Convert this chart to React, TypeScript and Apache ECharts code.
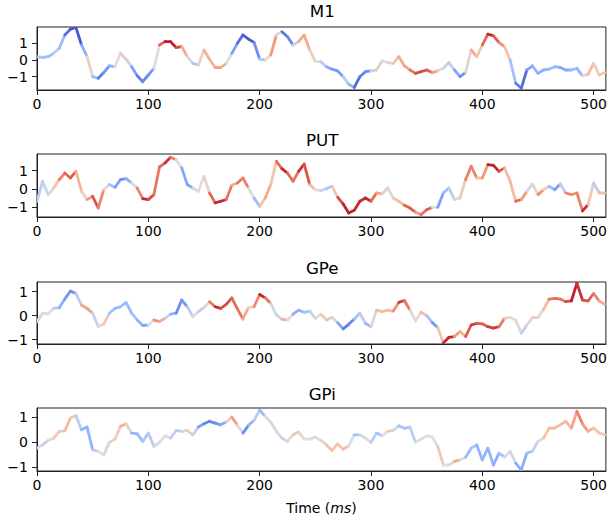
import React, { useEffect, useRef } from "react";
import * as echarts from "echarts";

// time grid (ms), one sample every 5 ms
const timeMs = [
  0, 5, 10, 15, 20, 25, 30, 35, 40, 45,
  50, 55, 60, 65, 70, 75, 80, 85, 90, 95,
  100, 105, 110, 115, 120, 125, 130, 135, 140, 145,
  150, 155, 160, 165, 170, 175, 180, 185, 190, 195,
  200, 205, 210, 215, 220, 225, 230, 235, 240, 245,
  250, 255, 260, 265, 270, 275, 280, 285, 290, 295,
  300, 305, 310, 315, 320, 325, 330, 335, 340, 345,
  350, 355, 360, 365, 370, 375, 380, 385, 390, 395,
  400, 405, 410, 415, 420, 425, 430, 435, 440, 445,
  450, 455, 460, 465, 470, 475, 480, 485, 490, 495,
  500, 505, 510,
];

const m1Values = [
  0.2, 0.15, 0.2, 0.4, 0.7, 1.5, 1.85, 1.95, 0.9, 0.2,
  -1.0, -1.1, -0.75, -0.35, -0.4, 0.4, 0.05, -0.4, -0.95, -1.3,
  -0.9, -0.5, 0.9, 1.1, 1.1, 0.75, 0.8, 0.2, -0.2, -0.3,
  0.6, 0.05, -0.45, -0.45, -0.2, 0.4, 1.0, 1.5, 1.25, 1.05,
  0.05, 0.0, 0.3, 1.5, 1.7, 1.4, 0.9, 1.1, 1.5, 0.6,
  -0.1, -0.1, -0.4, -0.55, -0.65, -1.0, -1.45, -1.65, -1.0, -0.7,
  -0.65, -0.6, -0.05, -0.15, -0.2, 0.2, -0.35, -0.6, -0.8, -0.7,
  -0.6, -0.75, -0.65, -0.5, -0.15, -0.6, -1.0, -0.75, 0.6, 0.2,
  0.9, 1.55, 1.45, 1.05, 0.8, 0.0, -1.4, -1.7, -0.6, -0.35,
  -0.8, -0.6, -0.55, -0.4, -0.45, -0.6, -0.6, -0.5, -0.95, -0.85,
  -0.2, -0.9, -0.75,
];
const m1Colors = [
  -0.2, -0.2, -0.3, -0.3, 0, -0.6, -0.95, -0.95, -0.9, 0.1,
  0.1, -0.7, -0.7, -0.4, -0.3, 0.3, 0.1, -0.3, -0.7, -0.7,
  -0.6, -0.5, 0.5, 0.95, 0.95, 0.9, 0.7, 0.1, -0.2, -0.2,
  0.4, 0.3, 0.4, 0.5, 0.3, -0.3, -0.7, -0.9, -0.9, -0.9,
  -0.3, -0.1, 0.2, 0.8, -0.7, -0.8, -0.5, 0.3, 0.5, 0.3,
  0, 0, -0.3, -0.6, -0.5, -0.5, 0.2, -0.9, -0.7, -0.7,
  -0.5, 0.3, 0, 0, 0.1, 0.4, 0.4, 0.5, 0.8, 0.8,
  0.8, 0.7, 0.3, -0.2, 0, -0.3, -0.6, -0.6, 0.8, 0,
  0.5, 0.9, 0.9, 0.6, 0.5, 0, -0.5, -0.9, -0.7, -0.3,
  -0.4, -0.4, -0.3, -0.3, -0.4, -0.5, -0.3, -0.3, -0.4, 0.6,
  0, 0.3, 0.2,
];

const putValues = [
  -0.67, 0.42, -0.31, 0.05, 0.51, 0.87, 0.6, 0.96, -0.13, -0.58,
  -0.4, -1.04, -0.04, 0.24, 0.09, 0.51, 0.56, 0.33, 0.05, -0.53,
  -0.58, -0.31, 1.2, 1.42, 1.73, 1.6, 1.15, 0.24, 0.05, -0.13,
  0.69, -0.22, -0.76, -0.67, -0.58, 0.2, 0.33, 0.6, 0.05, -0.49,
  -0.95, -0.49, 0.24, 1.51, 1.11, 0.87, 0.42, 0.96, 1.36, 0.24,
  -0.04, -0.09, 0.02, 0.15, -0.45, -0.82, -1.31, -1.16, -0.67, -0.49,
  -0.67, -0.22, -0.27, 0.05, -0.49, -0.67, -0.89, -1.04, -1.27, -1.4,
  -1.13, -1.0, -1.0, -0.22, 0.05, -0.58, -0.49, 0.51, 1.24, 0.6,
  0.6, 1.33, 1.29, 0.96, 1.15, 0.42, -0.67, -0.58, -0.13, 0.27,
  -0.31, -0.04, 0.15, -0.04, 0.27, -0.22, -0.31, -0.22, -1.2, -0.85,
  0.33, -0.22, -0.22,
];
const putColors = [
  -0.3, 0, -0.2, 0.1, 0.4, 0.8, 0.6, 0.9, -0.2, 0.4,
  0.6, 0.95, 0.2, -0.1, -0.4, -0.6, -0.6, -0.2, 0.3, 0.9,
  0.9, 0.7, 0.6, 0.8, 0.95, 0.3, -0.3, -0.6, -0.4, 0.3,
  -0.3, 0.5, 0.9, 0.9, 0.9, 0.4, 0.4, 0.9, 0.3, -0.3,
  -0.3, 0.8, 0, 0.5, 0.9, 0.9, 0.5, 0.8, 0.95, 0.6,
  0, 0, -0.2, -0.2, 0.7, 0.9, 0.95, 0.9, 0.9, 0.9,
  0.9, 0.5, 0.4, -0.2, 0.4, 0, 0.6, 0.9, 0.6, 0.4,
  0.9, 0.6, -0.6, -0.4, -0.2, -0.1, 0, 0.4, 0.8, 0.4,
  0.1, 0.9, 0.95, 0.9, 0.6, 0, 0.6, 0.8, 0.2, -0.3,
  0.5, 0.6, -0.3, -0.3, -0.7, 0.4, 0.8, 0.3, 0.9, 0.9,
  -0.5, 0.2, 0.4,
];

const gpeValues = [
  -0.25, 0.1, 0.07, 0.3, 0.33, 0.69, 1.02, 0.92, 0.44, 0.3,
  0.1, -0.45, -0.35, 0.1, 0.3, 0.37, 0.55, 0.1, -0.18, -0.41,
  -0.39, -0.18, -0.25, -0.11, 0.06, 0.1, 0.65, 0.37, -0.04, 0.17,
  0.33, 0.58, 0.37, 0.3, 0.47, 0.74, 0.28, -0.14, 0.34, 0.37,
  0.88, 0.74, 0.51, 0.03, -0.15, -0.18, 0.06, 0.23, 0.14, 0.19,
  -0.11, 0.06, -0.18, -0.07, -0.29, -0.55, -0.36, -0.14, 0.1, -0.32,
  -0.46, 0.23, 0.17, 0.23, 0.19, 0.55, 0.63, 0.23, -0.22, 0.14,
  0, -0.28, -0.5, -1.14, -0.9, -0.87, -0.66, -0.87, -0.39, -0.32,
  -0.34, -0.46, -0.52, -0.46, -0.11, -0.08, -0.18, -0.73, -0.39, -0.08,
  -0.08, 0.26, 0.69, 0.72, 0.69, 0.58, 0.61, 1.35, 0.65, 0.61,
  0.92, 0.61, 0.47,
];
const gpeColors = [
  0, 0.1, 0, 0, -0.3, -0.5, -0.6, -0.6, 0.3, 0.6,
  0.3, -0.5, 0.6, -0.2, -0.3, -0.3, -0.3, -0.3, -0.2, -0.5,
  -0.4, 0.4, 0.7, 0.1, -0.3, -0.4, -0.8, -0.3, 0, 0,
  -0.3, 0.4, 0.9, 0.9, 0.7, 0.9, 0.5, 0.8, 0, 0.2,
  0.95, 0.9, 0.4, -0.5, 0.3, 0.4, -0.4, -0.4, -0.3, -0.2,
  0, 0, 0.3, 0.2, -0.3, -0.6, -0.8, -0.5, 0, -0.3,
  -0.4, 0.3, 0.3, 0.3, 0.3, 0.8, 0.9, 0.4, -0.3, 0.4,
  0.2, -0.7, -0.4, 0.9, 0.9, 0.9, 0.1, 0.6, 0.9, 0.8,
  0.7, 0.8, 0.9, 0.8, 0.5, -0.2, 0.3, -0.2, -0.1, 0.3,
  0, 0.1, 0.5, 0.8, 0.6, 0.7, 0.9, 0.95, 0.8, 0.8,
  0.7, 0.5, 0.3,
];

const gpiValues = [
  -0.24, -0.11, 0.07, 0.16, 0.43, 0.45, 0.96, 1.05, 0.49, 0.6,
  -0.31, -0.37, -0.51, -0.01, 0.12, 0.63, 0.73, 0.36, 0.33, 0.03,
  0.36, -0.17, -0.01, 0.25, 0.16, 0.47, 0.43, 0.47, 0.29, 0.6,
  0.73, 0.83, 0.76, 0.69, 0.8, 1.0, 0.67, 0.36, 0.67, 0.87,
  1.27, 1.03, 0.79, 0.43, 0.16, 0.03, 0.29, 0.4, 0.12, 0.12,
  0.2, 0.07, -0.11, -0.33, -0.07, -0.28, -0.15, 0.29, 0.29, 0.16,
  -0.01, 0.36, 0.25, 0.43, 0.47, 0.65, 0.55, 0.6, -0.01, 0.12,
  0.25, 0.2, -0.17, -0.91, -0.91, -0.77, -0.71, -0.6, -0.24, -0.11,
  -0.71, -0.24, -0.91, -0.44, -0.6, -0.37, -0.84, -1.11, -0.44, -0.37,
  0.03, 0.16, 0.56, 0.56, 0.69, 0.83, 0.56, 1.23, 0.73, 0.43,
  0.56, 0.36, 0.29,
];
const gpiColors = [
  0, -0.1, -0.1, 0.2, 0.2, 0.1, 0.5, -0.1, -0.2, -0.5,
  -0.2, -0.1, 0.1, 0.1, 0.1, 0.2, 0.5, -0.3, -0.4, -0.2,
  -0.2, -0.1, 0, 0, 0, -0.2, -0.1, 0, 0.3, -0.5,
  -0.5, -0.8, -0.5, -0.6, -0.3, 0.6, 0.4, -0.4, -0.8, 0.1,
  -0.4, -0.2, 0.2, 0, -0.1, -0.1, 0.2, 0.2, 0, 0,
  0.1, 0, 0.2, 0.3, 0.2, 0.3, 0.3, -0.3, -0.2, 0.1,
  0, -0.3, -0.2, 0.2, 0.2, -0.3, -0.2, -0.3, 0, 0,
  0, 0, 0, 0.4, -0.4, 0.5, 0.3, -0.3, -0.3, -0.2,
  -0.5, -0.2, -0.5, -0.3, -0.2, 0.2, -0.3, -0.5, -0.3, -0.2,
  0, 0.1, 0.4, 0.3, 0.3, 0.3, 0.3, 0.6, 0.6, 0.4,
  0.3, 0.2, 0.2,
];

const panelTitles = ["M1", "PUT", "GPe", "GPi"];
const xTickValues = [0, 100, 200, 300, 400, 500];
const yTickValues = [-1, 0, 1];
const yLimits = [
  [-1.8, 1.98],
  [-1.53, 1.91],
  [-1.18, 1.4],
  [-1.15, 1.36],
];

const COOLWARM: [number, number[]][] = [
  [0.0, [59, 76, 192]],
  [0.125, [88, 118, 228]],
  [0.25, [123, 159, 250]],
  [0.375, [162, 194, 255]],
  [0.5, [221, 221, 221]],
  [0.625, [245, 194, 170]],
  [0.75, [244, 154, 123]],
  [0.875, [221, 95, 75]],
  [1.0, [180, 4, 38]],
];

function coolwarm(c: number): string {
  const s = Math.max(0, Math.min(1, (c + 1) / 2));
  for (let i = 0; i < COOLWARM.length - 1; i++) {
    const [s0, c0] = COOLWARM[i];
    const [s1, c1] = COOLWARM[i + 1];
    if (s <= s1) {
      const f = (s - s0) / (s1 - s0);
      const r = Math.round(c0[0] + (c1[0] - c0[0]) * f);
      const g = Math.round(c0[1] + (c1[1] - c0[1]) * f);
      const b = Math.round(c0[2] + (c1[2] - c0[2]) * f);
      return `rgb(${r},${g},${b})`;
    }
  }
  return "rgb(180,4,38)";
}

const FONT = "DejaVu Sans";

export default function App() {
  const ref = useRef<HTMLDivElement>(null);
  useEffect(() => {
    document.body.style.margin = "0";
    if (!ref.current) return;
    const chart = echarts.init(ref.current, null, { renderer: "svg" });

    const seriesValues = [m1Values, putValues, gpeValues, gpiValues];
    const seriesColors = [m1Colors, putColors, gpeColors, gpiColors];
    const gridTops = [27, 154, 282, 408];
    const gridHeights = [63, 63, 62, 63];
    const left = 37;
    const width = 570.5;

    const grids = gridTops.map((top, i) => ({
      left,
      top,
      width,
      height: gridHeights[i],
      show: true,
      borderColor: "#222",
      borderWidth: 1,
      backgroundColor: "transparent",
      containLabel: false,
    }));

    const xAxes = gridTops.map((_, i) => ({
      type: "value",
      gridIndex: i,
      min: 0,
      max: 511,
      axisLine: { show: true, onZero: false, lineStyle: { color: "#222", width: 1 } },
      axisTick: { show: true, length: 5, customValues: xTickValues, lineStyle: { color: "#222", width: 1 } },
      axisLabel: {
        show: true,
        customValues: xTickValues,
        fontSize: 14,
        fontFamily: FONT,
        color: "#000",
        margin: 7,
      },
      splitLine: { show: false },
      ...(i === 3
        ? {
            name: "Time ({i|ms})",
            nameLocation: "middle",
            nameGap: 30,
            nameTextStyle: {
              fontSize: 14,
              fontFamily: FONT,
              color: "#000",
              rich: { i: { fontStyle: "italic", fontSize: 14, fontFamily: FONT, color: "#000" } },
            },
          }
        : {}),
    }));

    const yAxes = gridTops.map((_, i) => ({
      type: "value",
      gridIndex: i,
      min: yLimits[i][0],
      max: yLimits[i][1],
      axisLine: { show: true, onZero: false, lineStyle: { color: "#222", width: 1 } },
      axisTick: { show: true, length: 5, customValues: yTickValues, lineStyle: { color: "#222", width: 1 } },
      axisLabel: {
        show: true,
        customValues: yTickValues,
        fontSize: 14,
        fontFamily: FONT,
        color: "#000",
        margin: 9,
        formatter: (v: number) => (v < 0 ? "\u2212" + Math.abs(v) : String(v)),
      },
      splitLine: { show: false },
    }));

    const series = seriesValues.map((vals, i) => {
      const cols = seriesColors[i];
      const data: number[][] = [];
      for (let k = 0; k < vals.length - 1; k++) {
        data.push([timeMs[k], vals[k], timeMs[k + 1], vals[k + 1], (cols[k] + cols[k + 1]) / 2]);
      }
      return {
        type: "custom",
        xAxisIndex: i,
        yAxisIndex: i,
        clip: true,
        encode: { x: [0, 2], y: [1, 3] },
        data,
        renderItem: (_params: any, api: any) => {
          const p0 = api.coord([api.value(0), api.value(1)]);
          const p1 = api.coord([api.value(2), api.value(3)]);
          return {
            type: "line",
            shape: { x1: p0[0], y1: p0[1], x2: p1[0], y2: p1[1] },
            style: { stroke: coolwarm(api.value(4)), lineWidth: 2.8, lineCap: "round" },
          };
        },
      };
    });

    const titleCenters = gridTops.map((t, i) => (i === 0 ? t - 16 : t - 14));
    const graphic = panelTitles.map((txt, i) => ({
      type: "text",
      x: left + width / 2,
      y: titleCenters[i],
      style: {
        text: txt,
        fontSize: 16.7,
        fontFamily: FONT,
        fill: "#000",
        textAlign: "center",
        textVerticalAlign: "middle",
      },
    }));

    chart.setOption({
      animation: false,
      backgroundColor: "#fff",
      grid: grids,
      xAxis: xAxes,
      yAxis: yAxes,
      series,
      graphic,
    } as any);

    return () => chart.dispose();
  }, []);

  return <div ref={ref} style={{ width: 610, height: 516 }} />;
}
